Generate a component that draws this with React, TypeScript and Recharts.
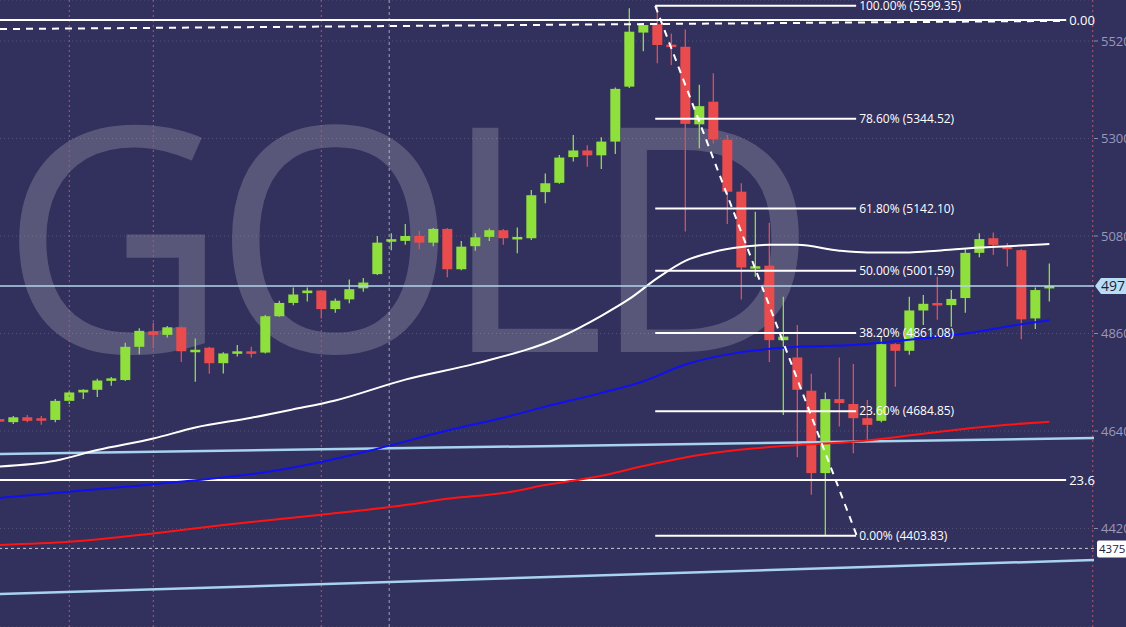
import React from "react";
import {
  ComposedChart,
  Bar,
  Line,
  XAxis,
  YAxis,
  CartesianGrid,
  ReferenceLine,
} from "recharts";

// daily candles, index 0 is the partly hidden one at the left edge
const OPEN = [
  4665, 4660, 4671, 4667, 4665, 4708, 4727, 4733, 4754, 4755, 4830, 4865, 4857,
  4874, 4819, 4828, 4793, 4816, 4818, 4817, 4899, 4929, 4951, 4957, 4915, 4937,
  4962, 4994, 5069, 5069, 5080, 5065, 5096, 5005, 5057, 5078, 5093, 5074, 5075,
  5179, 5200, 5258, 5273, 5262, 5293, 5417, 5539, 5558, 5510, 5507, 5332, 5383,
  5297, 5180, 5007, 5013, 4845, 4806, 4731, 4545, 4712, 4701, 4669, 4663, 4836,
  4821, 4912, 4927, 4924, 4940, 5042, 5075, 5054, 5048, 4894, 4962,
];
const HIGH = [
  4667, 4674, 4676, 4674, 4712, 4731, 4734, 4758, 4762, 4839, 4872, 4884, 4877,
  4876, 4849, 4830, 4818, 4834, 4830, 4902, 4934, 4964, 4964, 4958, 4939, 4982,
  4985, 5080, 5086, 5107, 5092, 5098, 5098, 5069, 5086, 5097, 5096, 5099, 5184,
  5221, 5263, 5308, 5285, 5303, 5415, 5594, 5558, 5599.35, 5537, 5546, 5421,
  5447, 5308, 5199, 5135, 5110, 4943, 4879, 4769, 4727, 4806, 4791, 4710, 4852,
  4838, 4943, 4947, 4988, 4958, 5050, 5086, 5088, 5064, 5050, 4964, 5018,
];
const LOW = [
  4661, 4656, 4660, 4654, 4660, 4701, 4712, 4717, 4742, 4753, 4813, 4827, 4851,
  4796, 4751, 4769, 4770, 4808, 4806, 4815, 4898, 4924, 4932, 4894, 4907, 4928,
  4954, 4992, 5048, 5060, 5050, 5057, 4987, 5003, 5047, 5069, 5060, 5041, 5071,
  5154, 5198, 5248, 5236, 5231, 5265, 5414, 5497, 5470, 5466, 5090, 5278, 5289,
  5107, 4937, 4988, 4796, 4676, 4581, 4496, 4403.83, 4650, 4590, 4620, 4660,
  4740, 4812, 4879, 4891, 4875, 4907, 5032, 5037, 5011, 4847, 4870, 4932,
];
const CLOSE = [
  4663, 4671, 4663, 4665, 4708, 4727, 4733, 4754, 4758, 4830, 4866, 4857, 4874,
  4820, 4822, 4793, 4815, 4818, 4816, 4899, 4929, 4948, 4957, 4915, 4934, 4960,
  4975, 5065, 5071, 5080, 5065, 5096, 5005, 5056, 5077, 5093, 5075, 5076, 5172,
  5199, 5257, 5273, 5262, 5293, 5412, 5541, 5556, 5511, 5508, 5333, 5373, 5298,
  5180, 5009, 5011, 4845, 4853, 4733, 4545, 4712, 4703, 4669, 4654, 4836, 4821,
  4912, 4927, 4925, 4938, 5042, 5073, 5060, 5052, 4892, 4958, 4967,
];

// moving averages, read at a few candles
const MA_WHITE_AT = [0, 4, 7, 11, 14, 18, 21, 24, 29, 34, 40, 43, 45, 47, 49, 51, 53, 55, 57, 60, 62, 65, 67, 70, 72, 75];
const MA_WHITE = [4560, 4573, 4597, 4623, 4648, 4670, 4689, 4709, 4756, 4792, 4851, 4900, 4938, 4985, 5024, 5044, 5055, 5060, 5060, 5047, 5043, 5043, 5047, 5054, 5057, 5062];
const MA_BLUE_AT = [0, 9, 14, 19, 23, 27, 32, 36, 39, 43, 46, 49, 53, 57, 61, 65, 69, 73, 75];
const MA_BLUE = [4489, 4514, 4529, 4547, 4570, 4600, 4641, 4670, 4695, 4726, 4752, 4790, 4818, 4830, 4834, 4846, 4860, 4881, 4890];
const MA_RED_AT = [0, 5, 11, 16, 23, 29, 32, 36, 39, 43, 46, 50, 54, 57, 61, 64, 67, 72, 75];
const MA_RED = [4383, 4390, 4409, 4428, 4451, 4473, 4487, 4500, 4518, 4539, 4561, 4586, 4601, 4608, 4616, 4626, 4638, 4654, 4661];

const PRICE_TICKS = [4200, 4420, 4640, 4860, 5080, 5300, 5520];
const FIB_NAMES = ["100.00%", "78.60%", "61.80%", "50.00%", "38.20%", "23.60%", "0.00%"];
const FIB_PRICES = [5599.35, 5344.52, 5142.1, 5001.59, 4861.08, 4684.85, 4403.83];
const SESSION_MARKS = [5, 11, 23, 78.1];

const LAST_PRICE = 4967;
const LINE_4375 = 4375.2;

const X_MIN = 0.05;
const X_MAX = 78.19;
const Y_MIN = 4197.8;
const Y_MAX = 5612.5;

const GREEN = "#8fe03c";
const RED = "#ea4c4e";
const SKY = "#a8d3ee";
const BG = "#32305c";

const candles = OPEN.map((o, i) => ({
  k: i,
  open: o,
  high: HIGH[i],
  low: LOW[i],
  close: CLOSE[i],
  range: [LOW[i], HIGH[i]],
}));

const toSeries = (at: number[], vals: number[]) => at.map((k, i) => ({ k, v: vals[i] }));

function Candle(props: any) {
  const { x, y, width, height, payload } = props;
  if (x == null || y == null) return null;
  const top = Math.min(y, y + height);
  const bot = Math.max(y, y + height);
  const span = payload.high - payload.low;
  const px = (v: number) => (span === 0 ? top : top + ((payload.high - v) / span) * (bot - top));
  const up = payload.close >= payload.open;
  const color = up ? GREEN : RED;
  const cx = x + width / 2;
  const yo = px(payload.open);
  const yc = px(payload.close);
  const bh = Math.max(Math.abs(yo - yc), 2.5);
  const by = Math.abs(yo - yc) < 2.5 ? (yo + yc) / 2 - 1.25 : Math.min(yo, yc);
  return (
    <g>
      <line x1={cx} x2={cx} y1={top} y2={bot} stroke={color} strokeWidth={1.3} />
      <rect x={x} y={by} width={width} height={bh} fill={color} />
    </g>
  );
}

// last price tag on the axis, cut by the right edge like the original
function PriceTag(props: any) {
  const { viewBox } = props;
  const x = viewBox.x + viewBox.width;
  const y = viewBox.y;
  return (
    <g>
      <path
        d={`M${x + 1},${y} L${x + 7},${y - 8} L${x + 40},${y - 8} L${x + 40},${y + 8} L${x + 7},${y + 8} Z`}
        fill="#b9ddf3"
      />
      <text x={x + 7} y={y + 5} fontSize={14} fill="#1e1d40">
        497
      </text>
    </g>
  );
}

function BoxTag(props: any) {
  const { viewBox } = props;
  const x = viewBox.x + viewBox.width;
  const y = viewBox.y;
  return (
    <g>
      <rect x={x + 3} y={y - 8} width={40} height={17} rx={2} fill="#ffffff" />
      <text x={x + 5} y={y + 4.5} fontSize={11.5} fill="#1e1d40">
        4375.
      </text>
    </g>
  );
}

export default function App() {
  return (
    <div
      style={{
        position: "relative",
        width: 1126,
        height: 627,
        background: BG,
        overflow: "hidden",
        fontFamily: "'Open Sans', sans-serif",
      }}
    >
      <style>{`body{margin:0}`}</style>
      <svg width={1126} height={627} style={{ position: "absolute", left: 0, top: 0 }}>
        <text
          x={0}
          y={352}
          fontSize={314}
          fontFamily="'Open Sans', sans-serif"
          fill="rgba(255,255,255,0.19)"
          textLength={818}
          lengthAdjust="spacing"
        >
          GOLD
        </text>
      </svg>
      <div style={{ position: "absolute", left: 0, top: 0 }}>
        <ComposedChart width={1126} height={627} data={candles} margin={{ top: 0, right: 0, bottom: 0, left: 0 }}>
          <CartesianGrid vertical={false} stroke="rgba(255,255,255,0.17)" strokeDasharray="1 3" />
          <XAxis
            dataKey="k"
            type="number"
            domain={[X_MIN, X_MAX]}
            ticks={Array.from({ length: 79 }, (_, i) => i)}
            allowDataOverflow
            hide
          />
          <YAxis
            orientation="right"
            width={32}
            domain={[Y_MIN, Y_MAX]}
            ticks={PRICE_TICKS}
            allowDataOverflow
            axisLine={false}
            tickSize={4}
            tickMargin={3}
            tickLine={{ stroke: "#8e8db0" }}
            tick={{ fill: "#9a98bb", fontSize: 13, textAnchor: "start" }}
          />

          {SESSION_MARKS.map((k) => (
            <ReferenceLine key={k} x={k} stroke="#b9546a" strokeDasharray="2 3" strokeWidth={1} />
          ))}
          <ReferenceLine x={27.85} stroke="rgba(255,255,255,0.55)" strokeDasharray="3 3" strokeWidth={1} />

          <ReferenceLine
            y={LINE_4375}
            stroke="rgba(255,255,255,0.75)"
            strokeDasharray="3 3"
            strokeWidth={1}
            ifOverflow="visible"
            label={<BoxTag />}
          />
          <ReferenceLine
            segment={[{ x: X_MIN, y: 4588 }, { x: X_MAX, y: 4624 }]}
            stroke={SKY}
            strokeWidth={2.5}
          />
          <ReferenceLine
            segment={[{ x: X_MIN, y: 4272 }, { x: X_MAX, y: 4349 }]}
            stroke={SKY}
            strokeWidth={2.5}
          />
          <ReferenceLine
            segment={[{ x: X_MIN, y: 5547 }, { x: 76.2, y: 5565.5 }]}
            stroke="#ffffff"
            strokeWidth={2}
            strokeDasharray="7 6"
          />
          <ReferenceLine
            segment={[{ x: X_MIN, y: 5567.4 }, { x: 76.2, y: 5567.4 }]}
            stroke="#ffffff"
            strokeWidth={2}
            label={{ value: "0.00", position: "right", fill: "#ffffff", fontSize: 13, offset: 3 }}
          />
          <ReferenceLine
            segment={[{ x: X_MIN, y: 4529.5 }, { x: 76.2, y: 4529.5 }]}
            stroke="#ffffff"
            strokeWidth={2}
            label={{ value: "23.6", position: "right", fill: "#ffffff", fontSize: 13, offset: 3 }}
          />

          <Bar dataKey="range" barSize={10} shape={Candle} isAnimationActive={false} />

          <Line data={toSeries(MA_WHITE_AT, MA_WHITE)} dataKey="v" type="monotone" stroke="#ffffff" strokeWidth={2} dot={false} isAnimationActive={false} />
          <Line data={toSeries(MA_BLUE_AT, MA_BLUE)} dataKey="v" type="monotone" stroke="#1010f5" strokeWidth={2} dot={false} isAnimationActive={false} />
          <Line data={toSeries(MA_RED_AT, MA_RED)} dataKey="v" type="monotone" stroke="#ff1414" strokeWidth={2} dot={false} isAnimationActive={false} />

          {FIB_PRICES.map((p, i) => (
            <ReferenceLine
              key={p}
              segment={[{ x: 46.85, y: p }, { x: 61.2, y: p }]}
              stroke="#ffffff"
              strokeWidth={2}
              label={{
                value: `${FIB_NAMES[i]} (${p.toFixed(2)})`,
                position: "right",
                fill: "#ffffff",
                fontSize: 12,
                offset: 3,
              }}
            />
          ))}
          <ReferenceLine
            segment={[{ x: 46.85, y: FIB_PRICES[0] }, { x: 61.25, y: FIB_PRICES[6] }]}
            stroke="#ffffff"
            strokeWidth={2}
            strokeDasharray="7 6"
          />

          <ReferenceLine
            y={LAST_PRICE}
            stroke="#b3d4ea"
            strokeWidth={1.5}
            ifOverflow="visible"
            label={<PriceTag />}
          />
        </ComposedChart>
      </div>
    </div>
  );
}
